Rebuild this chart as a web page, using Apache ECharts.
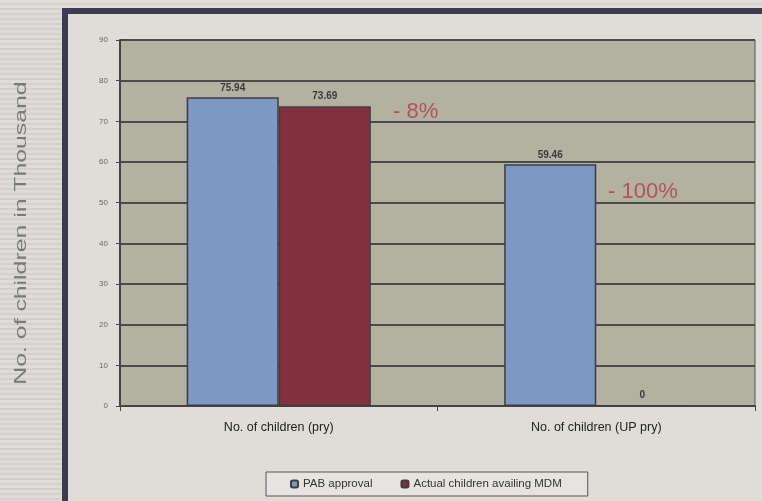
<!DOCTYPE html>
<html>
<head>
<meta charset="utf-8">
<script src="https://cdn.jsdelivr.net/npm/echarts@6/dist/echarts.min.js"></script>
<style>
  html, body { margin:0; padding:0; width:762px; height:501px; overflow:hidden;
    background: repeating-linear-gradient(180deg, #dddcd9 0px, #dddcd9 3px, #d2d1ce 3px, #d2d1ce 5px); }
  #frame { position:absolute; left:62px; top:8px; width:720px; height:500px;
    border-left:6px solid #3c3b50; border-top:6px solid #3c3b50; background:#dfddd8; }
  #main { position:absolute; left:0; top:0; width:762px; height:501px; }
</style>
</head>
<body>
<div id="frame"></div>
<div id="main"></div>
<script>
const categories = ['No. of children (pry)', 'No. of children (UP pry)'];
const seriesNames = ['PAB approval', 'Actual children availing MDM'];
const pabApproval = [75.94, 59.46];
const actualAvailing = [73.69, 0];
const yTicks = { min: 0, max: 90, interval: 10 };
const yAxisTitle = 'No. of children in Thousand';
const annotations = ['- 8%', '- 100%'];

const chart = echarts.init(document.getElementById('main'), null, { renderer: 'canvas' });
const option = {
  animation: false,
  backgroundColor: 'transparent',
  grid: { left: 120, right: 7, top: 40, bottom: 95, show: true,
          backgroundColor: '#b3b1a1', borderColor: '#555', borderWidth: 1 },
  legend: {
    data: seriesNames, left: 266, top: 472,
    itemWidth: 7, itemHeight: 7, itemGap: 28,
    padding: [6, 26, 6, 24],
    borderColor: '#555', borderWidth: 1, backgroundColor: '#e6e4e0',
    textStyle: { fontSize: 11.5, color: '#333', fontFamily: 'Liberation Sans' }
  },
  xAxis: {
    type: 'category', data: categories,
    axisLine: { lineStyle: { color: '#444', width: 2 } },
    axisTick: { show: true, alignWithLabel: false, lineStyle: { color: '#444' } },
    axisLabel: { fontSize: 12.5, color: '#222', margin: 15, fontFamily: 'Liberation Sans' }
  },
  yAxis: {
    type: 'value', min: yTicks.min, max: yTicks.max, interval: yTicks.interval,
    axisLine: { show: true, lineStyle: { color: '#444', width: 2 } },
    axisTick: { show: true, length: 4, lineStyle: { color: '#444' } },
    axisLabel: { fontSize: 8, color: '#666', margin: 12, fontFamily: 'Liberation Sans' },
    splitLine: { lineStyle: { color: '#4a4a48', width: 2 } }
  },
  series: [
    { name: seriesNames[0], type: 'bar', data: pabApproval, barGap: '0%', barCategoryGap: '42%',
      itemStyle: { color: '#7d98c3', borderColor: '#3e3e3e', borderWidth: 1.5 },
      label: { show: true, position: 'top', fontSize: 10, fontWeight: 'bold', color: '#3a3a3a', distance: 4 } },
    { name: seriesNames[1], type: 'bar', data: actualAvailing,
      itemStyle: { color: '#84303e', borderColor: '#3e3e3e', borderWidth: 1.5 },
      label: { show: true, position: 'top', fontSize: 10, fontWeight: 'bold', color: '#3a3a3a', distance: 5 } }
  ],
  graphic: [
    { type: 'text', x: 22, y: 233, rotation: Math.PI / 2, scaleX: 1.55,
      style: { text: yAxisTitle, fontSize: 16, fill: '#7a7a7a', fontFamily: 'Liberation Sans',
               align: 'center', verticalAlign: 'middle' } },
    { type: 'text', left: 393, top: 101, style: { text: annotations[0], fontSize: 22, fill: '#b3525c', fontFamily: 'Liberation Sans' } },
    { type: 'text', left: 608, top: 181, style: { text: annotations[1], fontSize: 22, fill: '#b3525c', fontFamily: 'Liberation Sans' } }
  ]
};
chart.setOption(option);
</script>
</body>
</html>
